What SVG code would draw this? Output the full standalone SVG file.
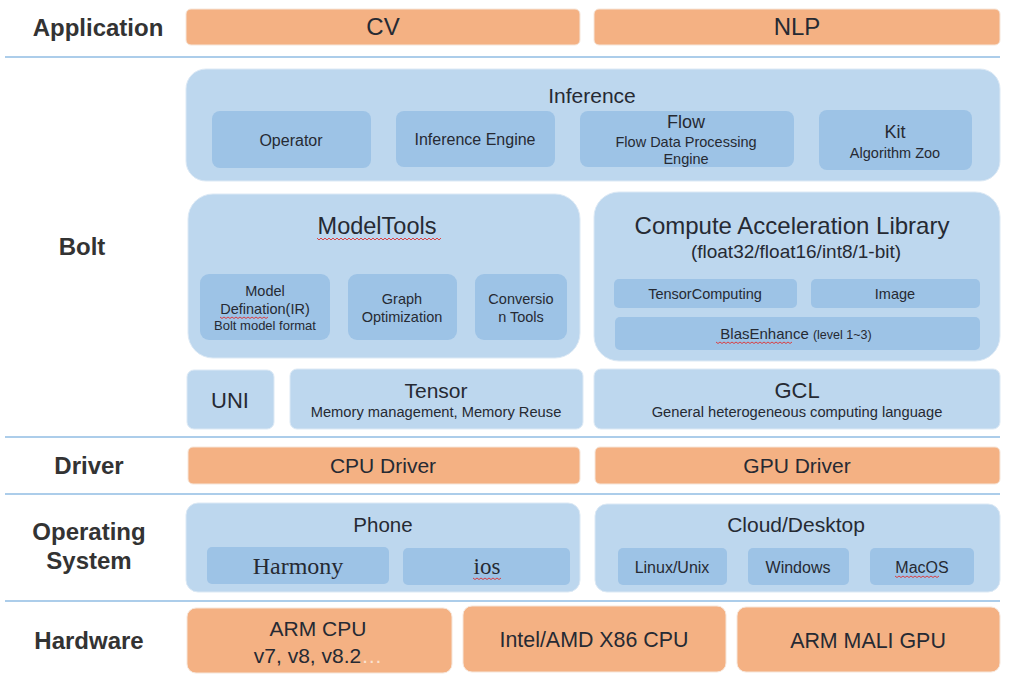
<svg xmlns="http://www.w3.org/2000/svg" width="1013" height="682" viewBox="0 0 1013 682">
<defs>
<style>
.or{fill:#F4B183;stroke:#F6E6DA;stroke-width:1}
.lb{fill:#BDD7EE;stroke:#DCE9F5;stroke-width:1}
.mb{fill:#9DC3E6;stroke:none}
.sep{stroke:#5B9BD5;stroke-width:1.2}
text{font-family:"Liberation Sans",Arial,sans-serif;fill:#262A33;text-anchor:middle}
.hd{font-weight:bold;font-size:24px;fill:#333333}
.sf{font-family:"Liberation Serif","Times New Roman",serif}
.sq{fill:none;stroke:#E03030;stroke-width:0.9}
</style>
</defs>
<rect width="1013" height="682" fill="#ffffff"/>
<g id="connectors">
<line class="sep" x1="5" y1="57" x2="1000" y2="57"/>
<line class="sep" x1="5" y1="437" x2="1000" y2="437"/>
<line class="sep" x1="5" y1="494" x2="1000" y2="494"/>
<line class="sep" x1="5" y1="601" x2="1000" y2="601"/>
</g>
<g id="layer-labels">
<text class="hd" x="98" y="36">Application</text>
<text class="hd" x="82" y="255">Bolt</text>
<text class="hd" x="89" y="474">Driver</text>
<text class="hd" x="89" y="540">Operating</text>
<text class="hd" x="89" y="569">System</text>
<text class="hd" x="89" y="649">Hardware</text>
</g>
<g id="cv"><rect class="or" x="186" y="9" width="394" height="36" rx="5"/><text x="383" y="35" font-size="24">CV</text></g>
<g id="nlp"><rect class="or" x="594" y="9" width="406" height="36" rx="5"/><text x="797" y="35" font-size="24">NLP</text></g>
<g id="inference">
<rect class="lb" x="186" y="69" width="814" height="112" rx="20"/>
<text x="592" y="103" font-size="21">Inference</text>
</g>
<g id="operator"><rect class="mb" x="212" y="111" width="159" height="57" rx="8"/><text x="291" y="146" font-size="16">Operator</text></g>
<g id="inference-engine"><rect class="mb" x="396" y="111" width="159" height="56" rx="8"/><text x="475" y="145" font-size="16">Inference Engine</text></g>
<g id="flow"><rect class="mb" x="580" y="111" width="214" height="56" rx="8"/>
<text x="686" y="128" font-size="18">Flow</text>
<text x="686" y="147" font-size="14.5">Flow Data Processing</text>
<text x="686" y="164" font-size="14.5">Engine</text></g>
<g id="kit"><rect class="mb" x="819" y="110" width="153" height="60" rx="8"/>
<text x="895" y="138" font-size="18">Kit</text>
<text x="895" y="158" font-size="14.5">Algorithm Zoo</text></g>
<g id="modeltools">
<rect class="lb" x="188" y="194" width="392" height="164" rx="25"/>
<text x="377" y="234" font-size="23.5">ModelTools</text>
<path class="sq" d="M317 238 l2 2 l2 -2 l2 2 l2 -2 l2 2 l2 -2 l2 2 l2 -2 l2 2 l2 -2 l2 2 l2 -2 l2 2 l2 -2 l2 2 l2 -2 l2 2 l2 -2 l2 2 l2 -2 l2 2 l2 -2 l2 2 l2 -2 l2 2 l2 -2 l2 2 l2 -2 l2 2 l2 -2 l2 2 l2 -2 l2 2 l2 -2 l2 2 l2 -2 l2 2 l2 -2 l2 2 l2 -2 l2 2 l2 -2 l2 2 l2 -2 l2 2 l2 -2 l2 2 l2 -2 l2 2 l2 -2 l2 2 l2 -2 l2 2 l2 -2 l2 2 l2 -2 l2 2 l2 -2 l2 2 l2 -2 l2 2 l2 -2"/>
</g>
<g id="model-definition"><rect class="mb" x="200" y="274" width="130" height="66" rx="9"/>
<text x="265" y="296" font-size="14.5">Model</text>
<text x="265" y="314" font-size="14.5">Defination(IR)</text>
<text x="265" y="330" font-size="13">Bolt model format</text>
<path class="sq" d="M220 317 l2 1.5 l2 -1.5 l2 1.5 l2 -1.5 l2 1.5 l2 -1.5 l2 1.5 l2 -1.5 l2 1.5 l2 -1.5 l2 1.5 l2 -1.5 l2 1.5 l2 -1.5 l2 1.5 l2 -1.5 l2 1.5 l2 -1.5 l2 1.5 l2 -1.5 l2 1.5 l2 -1.5 l2 1.5 l2 -1.5"/>
</g>
<g id="graph-optimization"><rect class="mb" x="348" y="274" width="109" height="66" rx="9"/>
<text x="402" y="304" font-size="14.5">Graph</text>
<text x="402" y="322" font-size="14.5">Optimization</text></g>
<g id="conversion-tools"><rect class="mb" x="475" y="274" width="92" height="66" rx="9"/>
<text x="521" y="304" font-size="14.5">Conversio</text>
<text x="521" y="322" font-size="14.5">n Tools</text></g>
<g id="compute-library">
<rect class="lb" x="594" y="192" width="406" height="169" rx="25"/>
<text x="792" y="234" font-size="24">Compute Acceleration Library</text>
<text x="796" y="258" font-size="19">(float32/float16/int8/1-bit)</text>
</g>
<g id="tensor-computing"><rect class="mb" x="614" y="279" width="183" height="29" rx="5"/><text x="705" y="299" font-size="14.5">TensorComputing</text></g>
<g id="image"><rect class="mb" x="811" y="279" width="169" height="29" rx="5"/><text x="895" y="299" font-size="14.5">Image</text></g>
<g id="blas-enhance"><rect class="mb" x="615" y="317" width="365" height="33" rx="5"/>
<text x="796" y="339" font-size="15">BlasEnhance <tspan font-size="12.5">(level 1~3)</tspan></text>
<path class="sq" d="M716 342 l2 1.5 l2 -1.5 l2 1.5 l2 -1.5 l2 1.5 l2 -1.5 l2 1.5 l2 -1.5 l2 1.5 l2 -1.5 l2 1.5 l2 -1.5 l2 1.5 l2 -1.5 l2 1.5 l2 -1.5 l2 1.5 l2 -1.5 l2 1.5 l2 -1.5 l2 1.5 l2 -1.5 l2 1.5 l2 -1.5 l2 1.5 l2 -1.5 l2 1.5 l2 -1.5 l2 1.5 l2 -1.5 l2 1.5 l2 -1.5 l2 1.5 l2 -1.5 l2 1.5 l2 -1.5 l2 1.5 l2 -1.5"/>
</g>
<g id="uni"><rect class="lb" x="187" y="370" width="87" height="59" rx="7"/><text x="230" y="408" font-size="22">UNI</text></g>
<g id="tensor"><rect class="lb" x="290" y="369" width="293" height="60" rx="7"/>
<text x="436" y="398" font-size="21">Tensor</text>
<text x="436" y="417" font-size="14.7">Memory management, Memory Reuse</text></g>
<g id="gcl"><rect class="lb" x="594" y="369" width="406" height="60" rx="7"/>
<text x="797" y="398" font-size="22">GCL</text>
<text x="797" y="417" font-size="14.7">General heterogeneous computing language</text></g>
<g id="cpu-driver"><rect class="or" x="188" y="447" width="392" height="37" rx="5"/><text x="383" y="473" font-size="21">CPU Driver</text></g>
<g id="gpu-driver"><rect class="or" x="595" y="447" width="405" height="37" rx="5"/><text x="797" y="473" font-size="21">GPU Driver</text></g>
<g id="phone"><rect class="lb" x="186" y="503" width="394" height="89" rx="12"/><text x="383" y="532" font-size="20.5">Phone</text></g>
<g id="harmony"><rect class="mb" x="207" y="547" width="182" height="37" rx="5"/><text class="sf" x="298" y="574" font-size="24">Harmony</text></g>
<g id="ios"><rect class="mb" x="403" y="548" width="167" height="37" rx="5"/><text class="sf" x="487" y="574" font-size="23">ios</text>
<path class="sq" d="M473 578 l2 1.5 l2 -1.5 l2 1.5 l2 -1.5 l2 1.5 l2 -1.5 l2 1.5 l2 -1.5 l2 1.5 l2 -1.5 l2 1.5 l2 -1.5 l2 1.5 l2 -1.5"/></g>
<g id="cloud-desktop"><rect class="lb" x="595" y="504" width="405" height="88" rx="12"/><text x="796" y="532" font-size="21">Cloud/Desktop</text></g>
<g id="linux"><rect class="mb" x="618" y="548" width="109" height="37" rx="5"/><text x="672" y="573" font-size="16">Linux/Unix</text></g>
<g id="windows"><rect class="mb" x="748" y="548" width="101" height="37" rx="5"/><text x="798" y="573" font-size="16">Windows</text></g>
<g id="macos"><rect class="mb" x="870" y="548" width="104" height="37" rx="5"/><text x="922" y="573" font-size="16">MacOS</text>
<path class="sq" d="M895 576 l2 1.5 l2 -1.5 l2 1.5 l2 -1.5 l2 1.5 l2 -1.5 l2 1.5 l2 -1.5 l2 1.5 l2 -1.5 l2 1.5 l2 -1.5 l2 1.5 l2 -1.5 l2 1.5 l2 -1.5 l2 1.5 l2 -1.5 l2 1.5 l2 -1.5 l2 1.5 l2 -1.5"/></g>
<g id="arm-cpu"><rect class="or" x="187" y="608" width="265" height="65" rx="9"/>
<text x="318" y="636" font-size="21">ARM CPU</text>
<text x="318" y="663" font-size="21">v7, v8, v8.2<tspan fill="#FBE3D2">…</tspan></text></g>
<g id="x86-cpu"><rect class="or" x="463" y="606" width="263" height="66" rx="9"/><text x="594" y="647" font-size="21.4">Intel/AMD X86 CPU</text></g>
<g id="mali-gpu"><rect class="or" x="737" y="607" width="263" height="65" rx="9"/><text x="868" y="648" font-size="21.4">ARM MALI GPU</text></g>
</svg>
